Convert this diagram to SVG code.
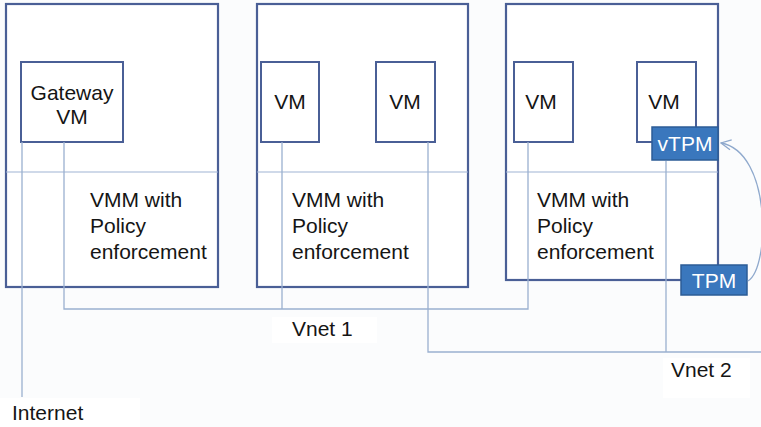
<svg xmlns="http://www.w3.org/2000/svg" width="761" height="427" viewBox="0 0 761 427">
<style>
.box{fill:#ffffff;stroke:#4a5f96;stroke-width:2.2}
.vm{fill:#ffffff;stroke:#4a5f96;stroke-width:2}
.div{stroke:#9fb3d3;stroke-width:1.2;fill:none}
.ln{stroke:#9ab0d0;stroke-width:1.3;fill:none}
.tpm{fill:#3a77bd;stroke:#2d5c96;stroke-width:1.5}
.t{font-family:"Liberation Sans",Arial,sans-serif;font-size:21px;fill:#151515}
.tw{font-family:"Liberation Sans",Arial,sans-serif;font-size:21px;fill:#ffffff}
.lbl{fill:#ffffff}
</style>
<defs>
<marker id="arr" viewBox="0 0 12 12" refX="11" refY="6" markerWidth="12" markerHeight="12" markerUnits="userSpaceOnUse" orient="auto">
<path d="M1,1 L11,6 L1,11" fill="none" stroke="#8fa9cd" stroke-width="1.3"/>
</marker>
</defs>
<rect width="761" height="427" fill="#fbfcfd"/>

<g id="host1">
<rect class="box" x="6" y="4" width="212" height="283"/>
<line class="div" x1="6" y1="172" x2="218" y2="172"/>
<rect class="lbl" x="80" y="185" width="132" height="80"/>
<text class="t" x="90" y="207">VMM with</text>
<text class="t" x="90" y="233">Policy</text>
<text class="t" x="90" y="259">enforcement</text>
</g>
<g id="gateway-vm">
<rect class="vm" x="21" y="62" width="102" height="80"/>
<text class="t" x="72" y="100" text-anchor="middle">Gateway</text>
<text class="t" x="72" y="124" text-anchor="middle">VM</text>
</g>

<g id="host2">
<rect class="box" x="257" y="4" width="211" height="283"/>
<line class="div" x1="257" y1="172" x2="468" y2="172"/>
<text class="t" x="292" y="207">VMM with</text>
<text class="t" x="292" y="233">Policy</text>
<text class="t" x="292" y="259">enforcement</text>
</g>
<g id="host2-vm1">
<rect class="vm" x="261" y="62" width="58" height="80"/>
<text class="t" x="290" y="109" text-anchor="middle">VM</text>
</g>
<g id="host2-vm2">
<rect class="vm" x="376" y="62" width="59" height="80"/>
<text class="t" x="405" y="109" text-anchor="middle">VM</text>
</g>

<g id="host3">
<rect class="box" x="506" y="4" width="212" height="276"/>
<line class="div" x1="506" y1="172" x2="718" y2="172"/>
<text class="t" x="537" y="207">VMM with</text>
<text class="t" x="537" y="233">Policy</text>
<text class="t" x="537" y="259">enforcement</text>
</g>
<g id="host3-vm1">
<rect class="vm" x="514" y="62" width="59" height="80"/>
<text class="t" x="541" y="109" text-anchor="middle">VM</text>
</g>
<g id="host3-vm2">
<rect class="vm" x="637" y="62" width="59" height="80"/>
<text class="t" x="664" y="109" text-anchor="middle">VM</text>
</g>

<g id="vtpm">
<rect class="tpm" x="652" y="127" width="66" height="33"/>
<text class="tw" x="685" y="151" text-anchor="middle">vTPM</text>
</g>
<g id="tpm">
<rect class="tpm" x="681" y="265" width="66" height="30"/>
<text class="tw" x="714" y="288" text-anchor="middle">TPM</text>
</g>

<g id="connectors">
<path class="ln" d="M22,142 V397"/>
<path class="ln" d="M64,142 V309 H528 V142"/>
<path class="ln" d="M282,142 V309"/>
<path class="ln" d="M428,142 V352 H761"/>
<path class="ln" d="M666,161 V352"/>
<path d="M748,281 C770,268 772,152 721,143" fill="none" stroke="#8fa9cd" stroke-width="1.3" marker-end="url(#arr)"/>
</g>

<g id="labels">
<rect class="lbl" x="272" y="317" width="105" height="26"/>
<text class="t" x="292" y="336">Vnet 1</text>
<rect class="lbl" x="663" y="358" width="87" height="40"/>
<text class="t" x="671" y="377">Vnet 2</text>
<rect class="lbl" x="0" y="398" width="140" height="29"/>
<text class="t" x="12" y="420">Internet</text>
</g>
</svg>
